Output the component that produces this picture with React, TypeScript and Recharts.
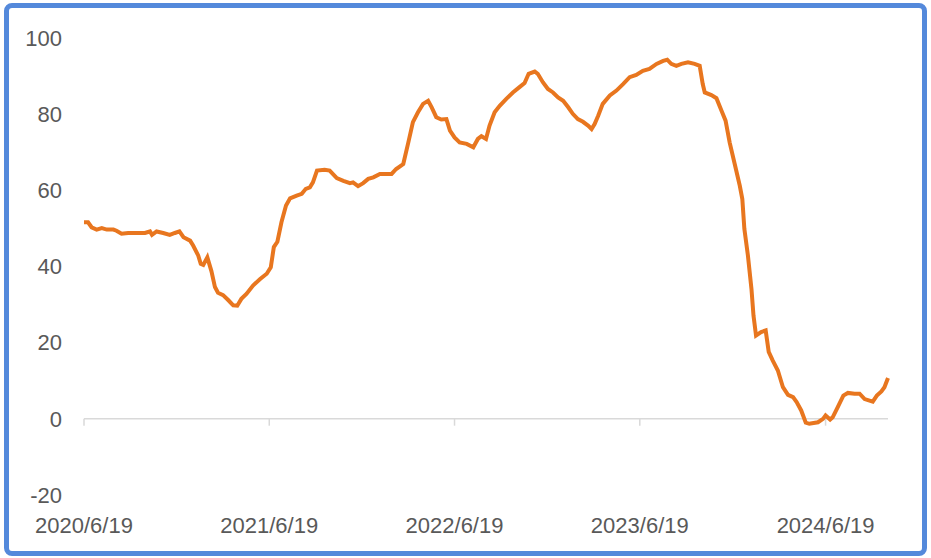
import { LineChart, Line, XAxis, YAxis, ReferenceLine } from "recharts"

// days counted from 2020/6/19
const days = [
  0, 8, 15, 25, 35, 45, 58, 64, 74, 87, 120, 130, 134, 143, 156, 169, 179, 188, 196, 209,
  215, 225, 230, 235, 243, 251, 258, 264, 274, 284, 294, 302, 310, 320, 333, 347, 360, 368, 374, 381,
  389, 398, 406, 419, 429, 437, 445, 451, 459, 474, 484, 498, 511, 524, 530, 540, 550, 560, 570, 583,
  606, 615, 629, 639, 648, 658, 668, 678, 685, 694, 704, 714, 721, 730, 740, 754, 767, 776, 783, 792,
  799, 809, 819, 832, 845, 858, 868, 876, 888, 894, 904, 914, 924, 934, 944, 954, 963, 973, 983, 993,
  1000, 1006, 1013, 1022, 1036, 1049, 1062, 1075, 1088, 1101, 1114, 1128, 1141, 1149, 1157, 1167, 1177, 1190, 1203, 1213,
  1219, 1223, 1236, 1246, 1256, 1264, 1272, 1282, 1292, 1297, 1301, 1308, 1315, 1319, 1324, 1334, 1343, 1349, 1357, 1367,
  1377, 1387, 1397, 1404, 1413, 1422, 1429, 1446, 1456, 1461, 1470, 1475, 1485, 1496, 1505, 1518, 1528, 1538, 1554, 1562,
  1571, 1577, 1584,
]

const values = [
  51.6, 51.6, 50.3, 49.7, 50.1, 49.7, 49.7, 49.4, 48.6, 48.8, 48.8, 49.2, 48.3, 49.2, 48.8, 48.3, 48.8, 49.2, 47.7, 46.8,
  45.5, 42.9, 40.7, 40.4, 42.4, 38.8, 34.6, 33.1, 32.5, 31.2, 29.8, 29.7, 31.5, 32.8, 35.0, 36.7, 38.1, 39.8, 45.1, 46.5,
  51.6, 56.0, 57.9, 58.6, 59.1, 60.4, 60.8, 62.1, 65.2, 65.4, 65.2, 63.2, 62.5, 61.9, 62.1, 61.1, 61.9, 63.0, 63.4, 64.3,
  64.3, 65.6, 66.9, 72.6, 77.9, 80.5, 82.7, 83.5, 81.8, 79.2, 78.6, 78.7, 75.7, 73.9, 72.6, 72.2, 71.3, 73.5, 74.2, 73.5,
  77.0, 80.5, 82.2, 84.0, 85.7, 87.1, 88.2, 90.6, 91.2, 90.6, 88.4, 86.6, 85.7, 84.4, 83.5, 81.8, 80.1, 78.7, 78.0, 77.0,
  76.1, 77.4, 79.6, 82.7, 84.9, 86.2, 87.9, 89.7, 90.3, 91.4, 91.9, 93.2, 94.0, 94.3, 93.2, 92.7, 93.2, 93.6, 93.2, 92.7,
  87.9, 85.7, 85.0, 84.2, 80.9, 78.3, 72.6, 66.9, 61.2, 57.7, 49.9, 42.9, 34.1, 27.1, 21.9, 22.8, 23.2, 17.6, 15.3, 12.7,
  8.3, 6.3, 5.7, 4.4, 2.2, -1.0, -1.3, -0.9, 0, 0.9, -0.2, 0.4, 3.1, 6.1, 6.8, 6.6, 6.6, 5.2, 4.5, 6.1,
  7.2, 8.3, 10.7,
]

const tickDays = [0, 365, 730, 1095, 1461]
const tickLabels = ["2020/6/19", "2021/6/19", "2022/6/19", "2023/6/19", "2024/6/19"]
const yTicks = [-20, 0, 20, 40, 60, 80, 100]

const data = days.map((d, i) => ({ day: d, value: values[i] }))

const font = { fontSize: 22, fill: "#595959", fontFamily: "'Liberation Sans', Arial, sans-serif" }

export default function App() {
  return (
    <div style={{ position: "absolute", left: 0, top: 0, width: 931, height: 558, background: "#fff" }}>
      <LineChart
        width={931}
        height={558}
        data={data}
        margin={{ top: 38, right: 43, left: 0, bottom: 0 }}
      >
        <XAxis
          type="number"
          dataKey="day"
          domain={[0, 1584]}
          ticks={tickDays}
          tickFormatter={(v) => tickLabels[tickDays.indexOf(v)] ?? ""}
          axisLine={false}
          tickLine={false}
          tickSize={0}
          tickMargin={22}
          height={63}
          tick={font}
          interval={0}
        />
        <YAxis
          domain={[-20, 100]}
          ticks={yTicks}
          axisLine={false}
          tickLine={false}
          tickSize={0}
          tickMargin={22}
          width={84}
          tick={font}
          interval={0}
        />
        {/* axis line sits on zero, not at the bottom */}
        <ReferenceLine y={0} stroke="#d9d9d9" strokeWidth={1.5} />
        {tickDays.map((t) => (
          <ReferenceLine
            key={t}
            segment={[
              { x: t, y: 0 },
              { x: t, y: -1.8 },
            ]}
            stroke="#d9d9d9"
            strokeWidth={1.5}
          />
        ))}
        <Line
          type="linear"
          dataKey="value"
          stroke="#E8761F"
          strokeWidth={4}
          dot={false}
          activeDot={false}
          isAnimationActive={false}
        />
      </LineChart>
      <div
        style={{
          position: "absolute",
          left: 4,
          top: 3,
          width: 923,
          height: 553,
          boxSizing: "border-box",
          border: "5px solid #5489DB",
          borderRadius: 8,
          pointerEvents: "none",
        }}
      />
    </div>
  )
}
